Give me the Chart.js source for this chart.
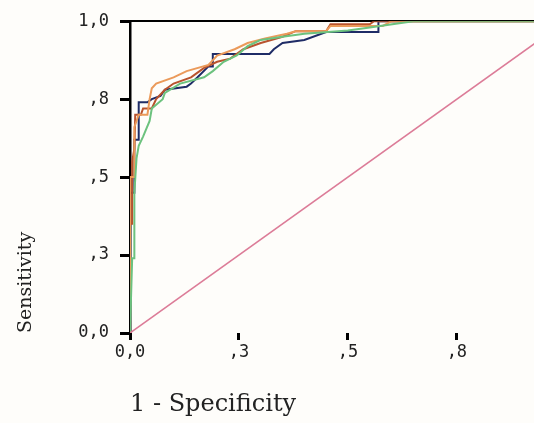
<!DOCTYPE html>
<html>
<head>
<meta charset="utf-8">
<script src="https://cdn.jsdelivr.net/npm/chart.js@4"></script>
<style>
  html, body { margin: 0; padding: 0; background: #fefdfa; }
  #wrap { width: 534px; height: 423px; }
</style>
</head>
<body>
<div id="wrap"><canvas id="roc"></canvas></div>
<script>
// tick positions and their SPSS-style labels (one decimal, comma)
const tickValues = [0, 0.25, 0.5, 0.75, 1];
const yTickLabels = ['0,0', ',3', ',5', ',8', '1,0'];
const xTickLabels = ['0,0', ',3', ',5', ',8'];

// reference line
const refFpr = [0, 1];
const refTpr = [0, 1];

// ROC curves (1 - specificity, sensitivity)
const greenFpr = [0, 0.005, 0.01, 0.01, 0.015, 0.02, 0.03, 0.045, 0.05, 0.075, 0.08, 0.115, 0.17, 0.19, 0.215, 0.245, 0.27, 0.285, 0.3, 0.35, 0.4, 0.5, 0.55, 0.65, 0.95];
const greenTpr = [0, 0.24, 0.24, 0.45, 0.56, 0.60, 0.63, 0.68, 0.72, 0.75, 0.77, 0.80, 0.82, 0.84, 0.87, 0.89, 0.92, 0.93, 0.94, 0.95, 0.96, 0.97, 0.98, 1.0, 1.0];

const orangeFpr = [0, 0, 0.01, 0.01, 0.02, 0.04, 0.045, 0.05, 0.06, 0.1, 0.13, 0.18, 0.2, 0.24, 0.27, 0.31, 0.36, 0.38, 0.45, 0.46, 0.58, 0.6, 0.95];
const orangeTpr = [0, 0.5, 0.5, 0.66, 0.70, 0.70, 0.75, 0.785, 0.80, 0.82, 0.84, 0.86, 0.89, 0.91, 0.93, 0.945, 0.96, 0.968, 0.968, 0.985, 0.985, 1.0, 1.0];

const redFpr = [0, 0, 0.005, 0.005, 0.01, 0.012, 0.025, 0.03, 0.05, 0.06, 0.08, 0.1, 0.14, 0.17, 0.2, 0.23, 0.26, 0.3, 0.35, 0.38, 0.45, 0.46, 0.55, 0.56, 0.95];
const redTpr = [0, 0.35, 0.35, 0.55, 0.59, 0.70, 0.70, 0.72, 0.72, 0.75, 0.78, 0.80, 0.82, 0.85, 0.87, 0.88, 0.91, 0.93, 0.95, 0.968, 0.968, 0.99, 0.99, 1.0, 1.0];

const navyFpr = [0, 0, 0.01, 0.01, 0.02, 0.02, 0.04, 0.05, 0.07, 0.08, 0.13, 0.14, 0.155, 0.18, 0.19, 0.19, 0.32, 0.33, 0.35, 0.40, 0.45, 0.57, 0.57, 0.95];
const navyTpr = [0, 0.45, 0.45, 0.62, 0.62, 0.74, 0.74, 0.75, 0.76, 0.78, 0.79, 0.80, 0.82, 0.855, 0.855, 0.895, 0.895, 0.91, 0.93, 0.94, 0.965, 0.965, 1.0, 1.0];

function toPoints(xs, ys) {
    return xs.map((x, i) => ({ x: x, y: ys[i] }));
}

function curve(xs, ys, color, width) {
    return {
        data: toPoints(xs, ys),
        borderColor: color,
        borderWidth: width,
        showLine: true,
        pointRadius: 0,
        fill: false
    };
}

const tickFont = { family: 'DejaVu Sans Mono', size: 17 };

new Chart(document.getElementById('roc'), {
    type: 'scatter',
    data: {
        datasets: [
            curve(refFpr, refTpr, '#dc7c98', 1.5),
            curve(greenFpr, greenTpr, '#6cc27e', 2),
            curve(orangeFpr, orangeTpr, '#eb9a5a', 2),
            curve(redFpr, redTpr, '#b9532e', 2),
            curve(navyFpr, navyTpr, '#1f2c66', 2)
        ]
    },
    options: {
        responsive: true,
        maintainAspectRatio: false,
        animation: false,
        layout: { padding: { top: 20, right: 0, left: 0, bottom: 0 } },
        plugins: { legend: { display: false }, tooltip: { enabled: false } },
        scales: {
            x: {
                type: 'linear',
                min: 0,
                max: 0.927,
                afterBuildTicks: (s) => { s.ticks = tickValues.slice(0, 4).map(v => ({ value: v })); },
                afterFit: (s) => { s.height = 90; },
                ticks: {
                    color: '#222',
                    font: tickFont,
                    padding: 2,
                    maxRotation: 0,
                    callback: (v, i) => xTickLabels[i]
                },
                grid: { drawOnChartArea: false, tickLength: 7, tickWidth: 3, tickColor: '#000' },
                border: { display: false },
                title: {
                    display: true,
                    text: '1 - Specificity',
                    align: 'start',
                    color: '#222',
                    font: { family: 'DejaVu Serif', size: 24 },
                    padding: { top: 0, bottom: 4 }
                }
            },
            x2: {
                type: 'linear',
                position: 'top',
                min: 0,
                max: 0.927,
                afterFit: (s) => { s.height = 0; },
                ticks: { display: false },
                grid: { drawOnChartArea: false, drawTicks: false },
                border: { display: true, color: '#000', width: 2 }
            },
            y: {
                type: 'linear',
                min: 0,
                max: 1,
                afterBuildTicks: (s) => { s.ticks = tickValues.map(v => ({ value: v })); },
                afterFit: (s) => { s.width = 130; },
                ticks: {
                    color: '#222',
                    font: tickFont,
                    padding: 11,
                    callback: (v, i) => yTickLabels[i]
                },
                grid: { drawOnChartArea: false, tickLength: 10, tickWidth: 3, tickColor: '#000' },
                border: { display: true, color: '#000', width: 2.5 },
                title: {
                    display: true,
                    text: 'Sensitivity',
                    align: 'start',
                    color: '#222',
                    font: { family: 'DejaVu Serif', size: 19 },
                    padding: { top: 15, bottom: 0 }
                }
            }
        }
    }
});
</script>
</body>
</html>
